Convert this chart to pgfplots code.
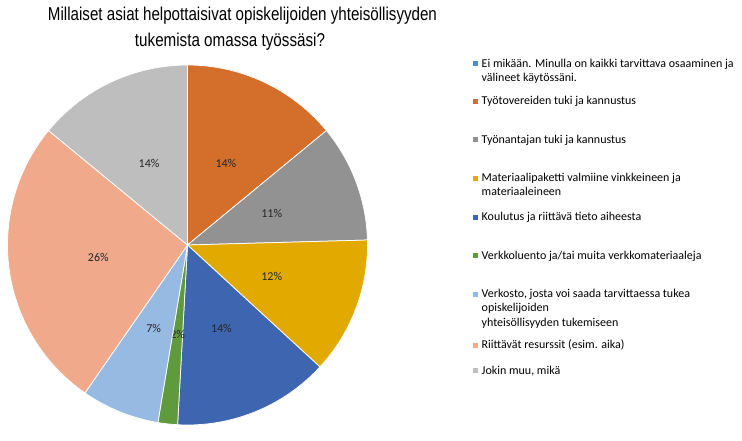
\documentclass[border=0pt]{standalone}
\usepackage{fontspec}
\usepackage{graphicx}
\usepackage{pgfplots}
\usepackage{pgfplotstable}
\pgfplotsset{compat=1.18}
\setmainfont{Carlito}
\newfontfamily\titlefont{Liberation Sans}
\definecolor{pie0}{HTML}{4F8EC6}
\definecolor{pie1}{HTML}{D36E2B}
\definecolor{pie2}{HTML}{929292}
\definecolor{pie3}{HTML}{E2AA00}
\definecolor{pie4}{HTML}{3E66B0}
\definecolor{pie5}{HTML}{5F9B3D}
\definecolor{pie6}{HTML}{96BAE2}
\definecolor{pie7}{HTML}{F0A98A}
\definecolor{pie8}{HTML}{BEBEBE}
\pgfplotstableread{
idx count
0 0
1 8
2 6
3 7
4 8
5 1
6 4
7 15
8 8
}\piedata
\def\total{57}
\newcommand\labfont{\fontsize{12}{14}\selectfont}
\newcommand\entry[1]{\rule{0pt}{10pt}\parbox[t]{260pt}{\fontsize{12}{14.4}\selectfont #1}}
\pgfplotsset{
  legax/.style={anchor=south west, width=5pt, height=5pt, scale only axis,
    hide axis, xmin=0, xmax=1, ymin=0, ymax=1,
    legend image code/.code={\fill[##1] (0pt,0.8pt) rectangle (5pt,5.8pt);},
    legend style={at={(axis description cs:0,0)}, anchor=north west,
      draw=none, fill=none, inner sep=0pt, outer sep=0pt,
      row sep=0pt, column sep=3.4pt,
      cells={anchor=base west},
      nodes={inner sep=0pt, outer sep=0pt},
      font=\fontsize{12}{14.4}\selectfont}},
}
\newcommand\legentry[3]{%
\begin{axis}[legax, at={(473.3pt,#1pt)}]
\addlegendimage{fill=#2, draw=none}
\addlegendentry{\entry{#3}}
\end{axis}}
\begin{document}
\begin{tikzpicture}
\path[use as bounding box] (0,0) rectangle (742pt,440pt);
\node[anchor=base, inner sep=0pt] at (242.5pt,419.3pt) {\resizebox{389pt}{\height}{\titlefont\fontsize{18.6}{22}\selectfont Millaiset asiat helpottaisivat opiskelijoiden yhteisöllisyyden}};
\node[anchor=base, inner sep=0pt] at (230pt,393.3pt) {\resizebox{190pt}{\height}{\titlefont\fontsize{18.6}{22}\selectfont tukemista omassa työssäsi?}};
\begin{axis}[
  at={(187.5pt,195pt)}, anchor=center,
  width=360pt, height=360pt, scale only axis,
  xmin=-1, xmax=1, ymin=-1, ymax=1,
  hide axis, clip=false,
]
\def\cum{0}
\pgfplotsforeachungrouped \i in {0,...,8}{%
  \pgfplotstablegetelem{\i}{count}\of\piedata
  \let\cnt\pgfplotsretval
  \ifnum\cnt>0
    \pgfmathsetmacro\aA{90-(\cum/\total)*360}%
    \pgfmathsetmacro\cumnew{\cum+\cnt}%
    \pgfmathsetmacro\aB{90-(\cumnew/\total)*360}%
    \pgfmathsetmacro\aM{(\aA+\aB)/2}%
    \pgfmathsetmacro\lx{0.5*cos(\aM)}%
    \pgfmathsetmacro\ly{0.5*sin(\aM)}%
    \pgfmathtruncatemacro\pc{round((\cnt/\total)*100)}%
    \edef\doplot{\noexpand\addplot[forget plot, fill=pie\i, draw=white, line width=0.75pt, domain=\aB:\aA, samples=90, variable=\noexpand\t] ({cos(\noexpand\t)},{sin(\noexpand\t)}) -- (axis cs:0,0) -- cycle;
      \noexpand\node[font=\noexpand\labfont, text=black!85] at (axis cs:\lx,\ly) {\pc\noexpand\%};}%
    \doplot
    \let\cum\cumnew
  \fi
}
\end{axis}
\legentry{382.7}{pie0}{Ei mikään. Minulla on kaikki tarvittava osaaminen ja\newline välineet käytössäni.}
\legentry{345}{pie1}{Työtovereiden tuki ja kannustus}
\legentry{306.7}{pie2}{Työnantajan tuki ja kannustus}
\legentry{268.4}{pie3}{Materiaalipaketti valmiine vinkkeineen ja\newline materiaaleineen}
\legentry{229.4}{pie4}{Koulutus ja riittävä tieto aiheesta}
\legentry{191}{pie5}{Verkkoluento ja/tai muita verkkomateriaaleja}
\legentry{152.7}{pie6}{Verkosto, josta voi saada tarvittaessa tukea\newline opiskelijoiden\newline yhteisöllisyyden tukemiseen}
\legentry{101.7}{pie7}{Riittävät resurssit (esim. aika)}
\legentry{76}{pie8}{Jokin muu, mikä}
\end{tikzpicture}
\end{document}
